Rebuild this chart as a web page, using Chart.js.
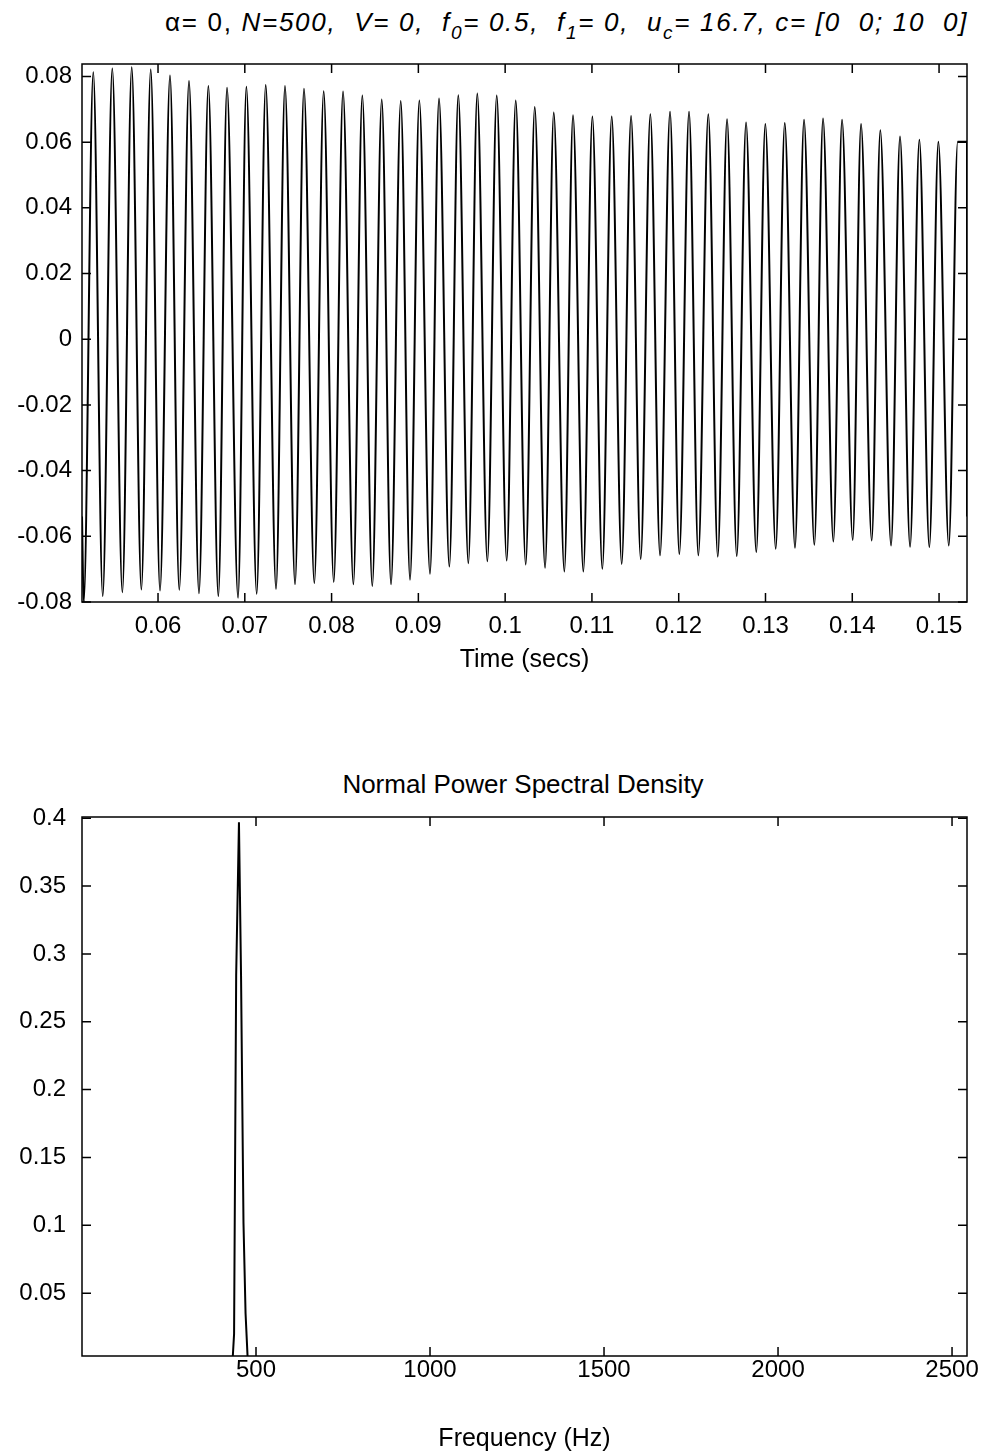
<!DOCTYPE html>
<html>
<head>
<meta charset="utf-8">
<script src="https://cdn.jsdelivr.net/npm/chart.js@4.4.0/dist/chart.umd.min.js"></script>
<style>
  body { margin: 0; background: #fff; width: 1002px; height: 1454px; position: relative; overflow: hidden;
         font-family: "Liberation Sans", Arial, sans-serif; color: #000; }
  canvas { position: absolute; left: 0; }
  #waveCanvas { top: 0; }
  #psdCanvas { top: 700px; }
  .title { position: absolute; font-size: 26px; line-height: 28px; white-space: pre; }
  #waveTitle { left: 165px; top: 8px; letter-spacing: 1.7px; }
  #waveTitle i { font-style: italic; }
  #waveTitle sub { font-size: 19px; line-height: 0; vertical-align: -8px; }
  #psdTitle { left: 0; width: 1046px; text-align: center; top: 770px; }
</style>
</head>
<body>
<div class="title" id="waveTitle">α= 0, <i>N=500,  V= 0,  f<sub>0</sub>= 0.5,  f<sub>1</sub>= 0,  u<sub>c</sub>= 16.7, c= [0  0; 10  0]</i></div>
<div class="title" id="psdTitle">Normal Power Spectral Density</div>
<canvas id="waveCanvas" width="1002" height="675"></canvas>
<canvas id="psdCanvas" width="1002" height="754"></canvas>
<script>
// time response: crest and trough of every cycle (secs, amplitude)
var peakTimes = [0.05254, 0.05473, 0.05697, 0.05916, 0.06138, 0.06357, 0.06580, 0.06795, 0.07018, 0.07241,
                 0.07463, 0.07682, 0.07909, 0.08132, 0.08354, 0.08578, 0.08797, 0.09011, 0.09238, 0.09460,
                 0.09679, 0.09903, 0.10122, 0.10341, 0.10560, 0.10782, 0.11005, 0.11228, 0.11451, 0.11673,
                 0.11900, 0.12119, 0.12341, 0.12557, 0.12776, 0.12998, 0.13222, 0.13444, 0.13663, 0.13882,
                 0.14101, 0.14323, 0.14550, 0.14773, 0.14992, 0.15215];
var peakValues = [0.0813, 0.0824, 0.0828, 0.0821, 0.0803, 0.0786, 0.0771, 0.0766, 0.0769, 0.0774,
                  0.0771, 0.0763, 0.0755, 0.0754, 0.0742, 0.0730, 0.0725, 0.0727, 0.0733, 0.0743,
                  0.0748, 0.0742, 0.0727, 0.0707, 0.0690, 0.0682, 0.0678, 0.0678, 0.0680, 0.0685,
                  0.0693, 0.0693, 0.0685, 0.0670, 0.0660, 0.0655, 0.0658, 0.0668, 0.0672, 0.0668,
                  0.0655, 0.0636, 0.0617, 0.0607, 0.0601, 0.0601];
var troughTimes = [0.05144, 0.05363, 0.05589, 0.05808, 0.06023, 0.06245, 0.06472, 0.06695, 0.06922, 0.07137,
                   0.07360, 0.07579, 0.07801, 0.08025, 0.08251, 0.08469, 0.08685, 0.08904, 0.09134, 0.09357,
                   0.09576, 0.09795, 0.10018, 0.10237, 0.10460, 0.10682, 0.10901, 0.11120, 0.11343, 0.11562,
                   0.11785, 0.12007, 0.12226, 0.12450, 0.12669, 0.12894, 0.13118, 0.13340, 0.13563, 0.13782,
                   0.14005, 0.14224, 0.14447, 0.14666, 0.14888, 0.15112];
var troughValues = [-0.0800, -0.0782, -0.0770, -0.0762, -0.0765, -0.0763, -0.0773, -0.0782, -0.0787, -0.0775,
                    -0.0760, -0.0746, -0.0742, -0.0739, -0.0746, -0.0751, -0.0746, -0.0732, -0.0714, -0.0692,
                    -0.0682, -0.0676, -0.0674, -0.0686, -0.0696, -0.0707, -0.0707, -0.0699, -0.0684, -0.0669,
                    -0.0658, -0.0654, -0.0658, -0.0662, -0.0660, -0.0648, -0.0638, -0.0635, -0.0626, -0.0616,
                    -0.0611, -0.0613, -0.0628, -0.0632, -0.0633, -0.0628];
// samples where the trace runs into the axes edges
var edgeTimes = [0.05124, 0.15322, 0.15322];
var edgeValues = [-0.054, 0.0601, -0.054];

var timeTicks = [0.06, 0.07, 0.08, 0.09, 0.10, 0.11, 0.12, 0.13, 0.14, 0.15];
var ampTicks = [-0.08, -0.06, -0.04, -0.02, 0, 0.02, 0.04, 0.06, 0.08];

// power spectral density
var psdFreqs = [0, 380, 433, 437, 443, 451, 457, 464, 470, 476, 520, 2543];
var psdValues = [0.0005, 0.0008, 0.002, 0.02, 0.284, 0.397, 0.284, 0.102, 0.035, 0.002, 0.0008, 0.0005];
var freqTicks = [500, 1000, 1500, 2000, 2500];
var psdTicks = [0.05, 0.1, 0.15, 0.2, 0.25, 0.3, 0.35, 0.4];

function toPoints(xs, ys) {
  return xs.map(function(x, i) { return {x: x, y: ys[i]}; });
}

var wavePoints = toPoints(peakTimes, peakValues)
  .concat(toPoints(troughTimes, troughValues))
  .concat(toPoints(edgeTimes, edgeValues))
  .sort(function(a, b) { return a.x - b.x; });

function fmt(v) { return String(+v.toFixed(4)); }

var tickFont = {family: '"Liberation Sans", Arial, sans-serif', size: 24};
var labelFont = {family: '"Liberation Sans", Arial, sans-serif', size: 25};

// box round the axes with matlab style inward ticks on all four sides
var boxTicks = {
  id: 'boxTicks',
  afterDraw: function(chart) {
    var ctx = chart.ctx, a = chart.chartArea, sx = chart.scales.x, sy = chart.scales.y;
    ctx.save();
    ctx.strokeStyle = '#000';
    ctx.lineWidth = 1.5;
    ctx.strokeRect(a.left, a.top, a.right - a.left, a.bottom - a.top);
    ctx.beginPath();
    sx.ticks.forEach(function(t) {
      var px = sx.getPixelForValue(t.value);
      ctx.moveTo(px, a.bottom); ctx.lineTo(px, a.bottom - 9);
      ctx.moveTo(px, a.top); ctx.lineTo(px, a.top + 9);
    });
    sy.ticks.forEach(function(t) {
      var py = sy.getPixelForValue(t.value);
      ctx.moveTo(a.left, py); ctx.lineTo(a.left + 9, py);
      ctx.moveTo(a.right, py); ctx.lineTo(a.right - 9, py);
    });
    ctx.stroke();
    ctx.restore();
  }
};

function axis(min, max, ticks, pad, fit, title) {
  return {
    type: 'linear',
    min: min,
    max: max,
    grid: {display: false, drawTicks: false},
    border: {display: false},
    afterBuildTicks: function(s) { s.ticks = ticks.map(function(v) { return {value: v}; }); },
    afterFit: fit,
    ticks: {color: '#000', font: tickFont, padding: pad, maxRotation: 0, autoSkip: false, callback: fmt},
    title: title ? {display: true, text: title, color: '#000', font: labelFont, padding: {top: 0, bottom: 0}} : {display: false}
  };
}

new Chart(document.getElementById('waveCanvas').getContext('2d'), {
  type: 'line',
  data: {
    datasets: [{
      data: wavePoints,
      borderColor: '#000',
      borderWidth: 2,
      pointRadius: 0,
      fill: false,
      cubicInterpolationMode: 'monotone'
    }]
  },
  options: {
    responsive: false,
    animation: false,
    layout: {padding: {top: 64, right: 35, bottom: 0, left: 0}},
    plugins: {legend: {display: false}, tooltip: {enabled: false}},
    scales: {
      x: axis(0.05124, 0.15322, timeTicks, 10, function(s) { s.height = 73; }, 'Time (secs)'),
      y: axis(-0.08, 0.0838, ampTicks, 10, function(s) { s.width = 82; })
    }
  },
  plugins: [boxTicks]
});

new Chart(document.getElementById('psdCanvas').getContext('2d'), {
  type: 'line',
  data: {
    datasets: [{
      data: toPoints(psdFreqs, psdValues),
      borderColor: '#000',
      borderWidth: 2,
      pointRadius: 0,
      fill: false,
      tension: 0
    }]
  },
  options: {
    responsive: false,
    animation: false,
    layout: {padding: {top: 117, right: 35, bottom: 0, left: 0}},
    plugins: {legend: {display: false}, tooltip: {enabled: false}},
    scales: {
      x: axis(0, 2543, freqTicks, 0, function(s) { s.height = 98; }, 'Frequency (Hz)'),
      y: axis(0.0037, 0.4009, psdTicks, 16, function(s) { s.width = 82; })
    }
  },
  plugins: [boxTicks]
});
</script>
</body>
</html>
